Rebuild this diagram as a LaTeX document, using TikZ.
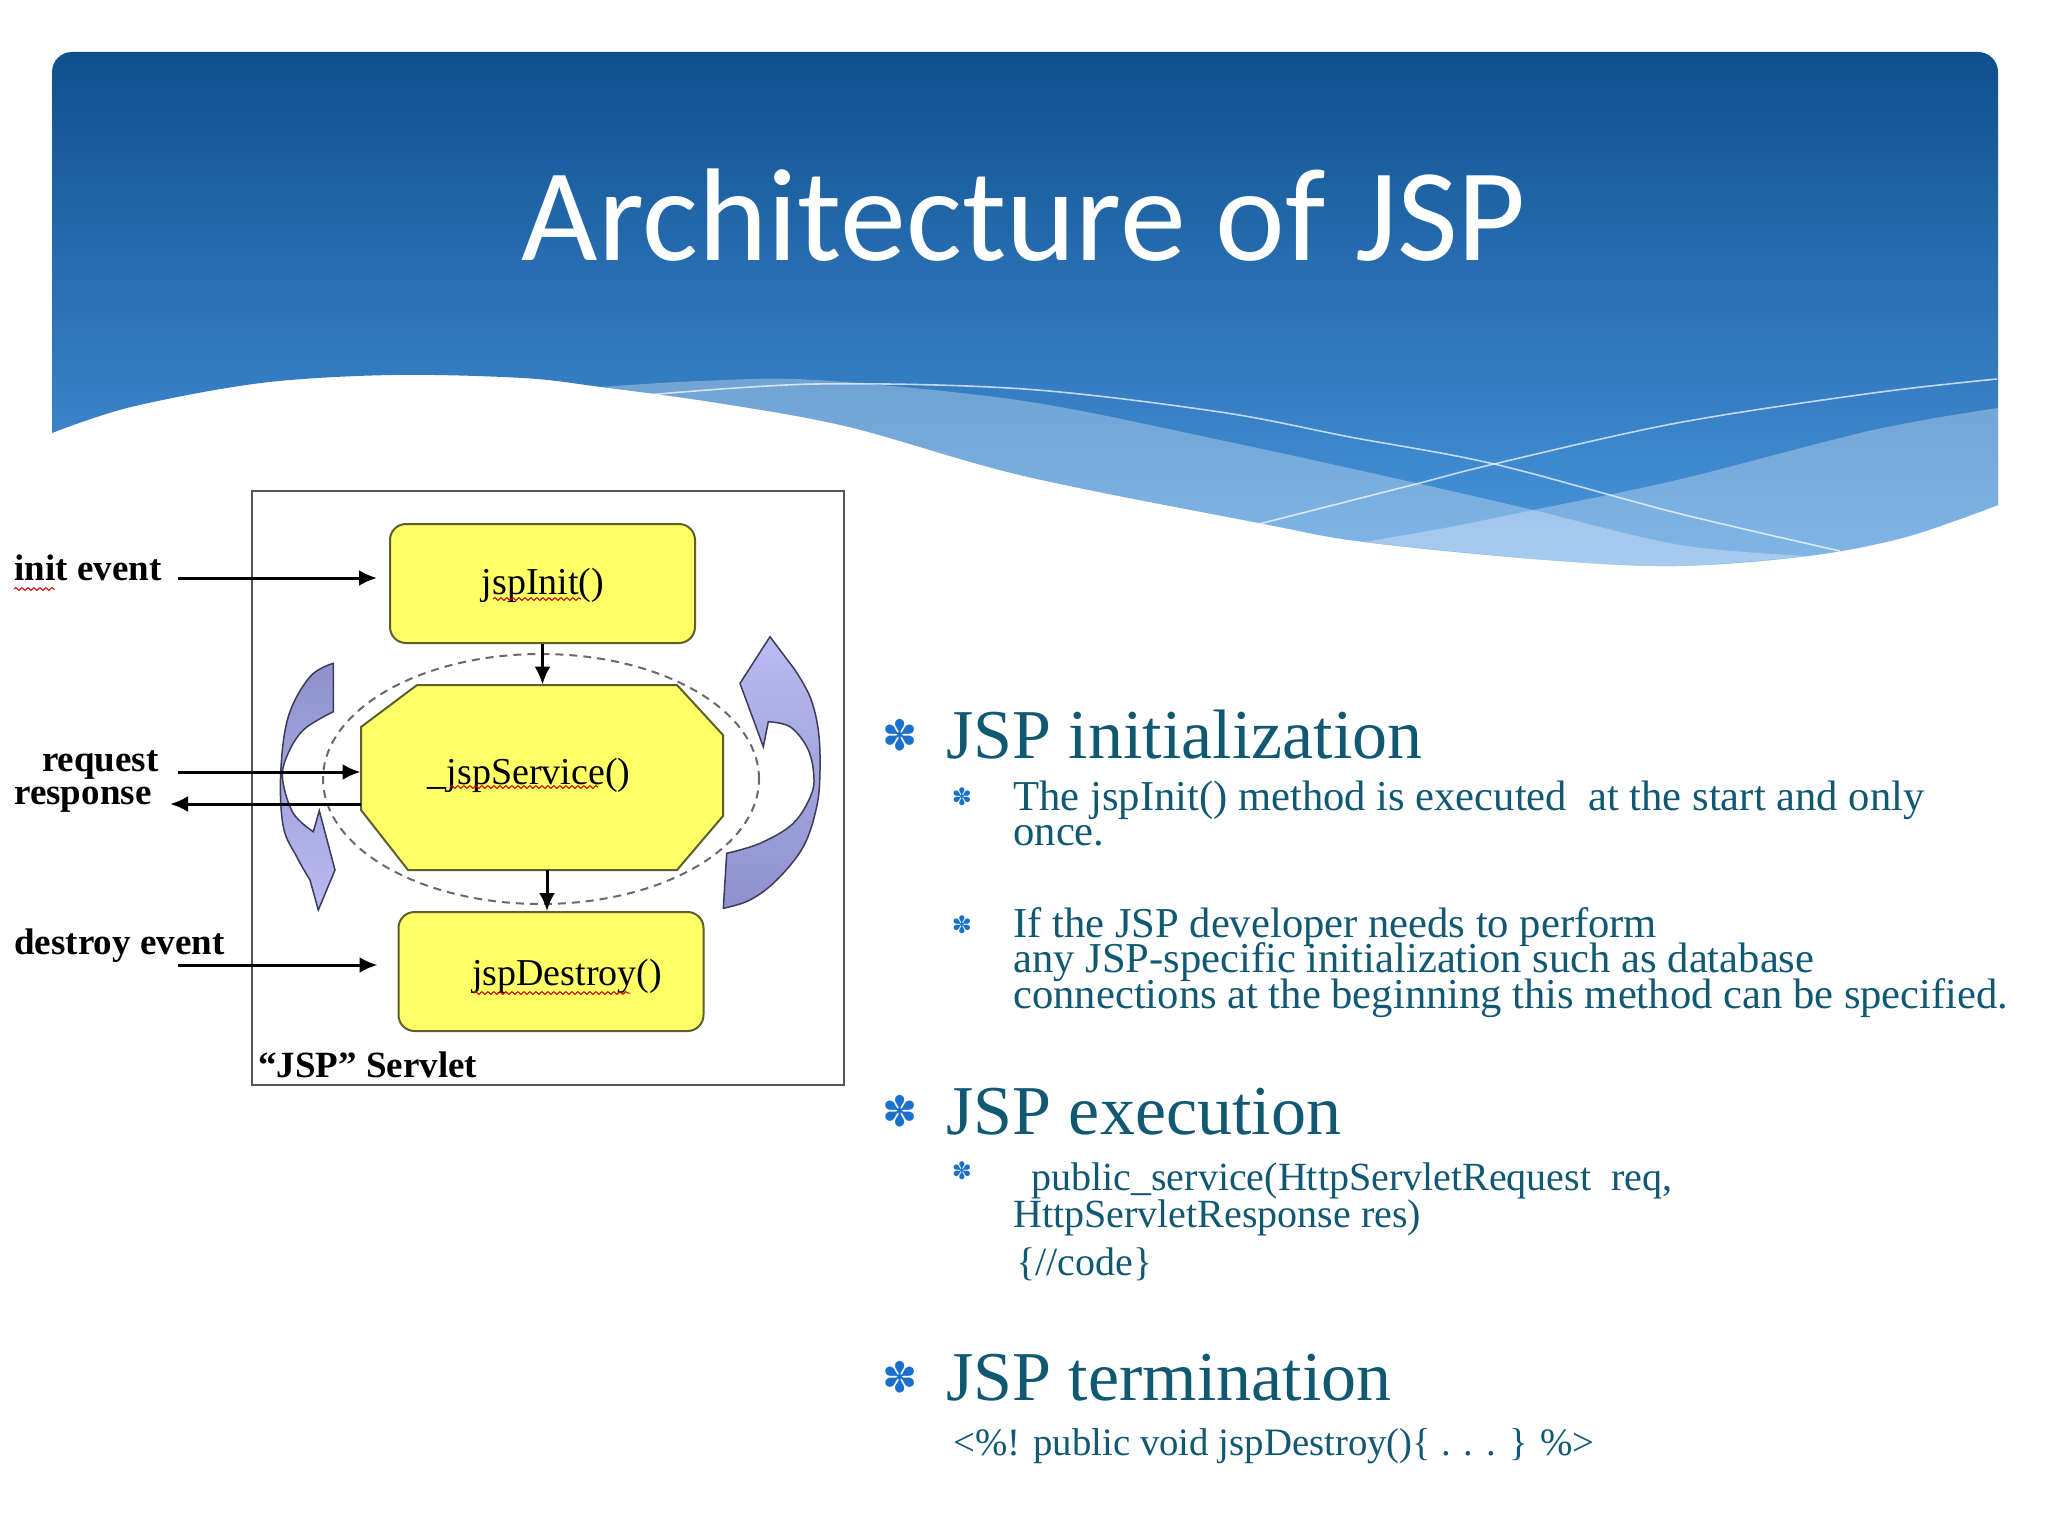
\documentclass[tikz,border=0pt]{standalone}
\usepackage{fontspec}
\setmainfont{Liberation Serif}
\newfontfamily\titlefont{Carlito}
\newfontfamily\symfont{DejaVu Sans}
\usetikzlibrary{arrows.meta,decorations.pathmorphing,shapes.geometric}

\definecolor{hdrTop}{RGB}{14,80,142}
\definecolor{hdrBot}{RGB}{74,150,222}
\definecolor{bodyTeal}{RGB}{17,89,115}
\definecolor{bulletBlue}{RGB}{25,112,205}
\definecolor{boxYellow}{RGB}{255,255,102}
\definecolor{boxEdge}{RGB}{95,95,45}
\definecolor{loopLight}{RGB}{184,188,242}
\definecolor{loopDark}{RGB}{142,145,203}
\definecolor{loopEdge}{RGB}{60,60,90}
\definecolor{frameGray}{RGB}{85,85,85}
\definecolor{ringGray}{RGB}{105,105,105}

\tikzset{
  ybox/.style={draw=boxEdge, fill=boxYellow, line width=1pt, rounded corners=8pt,
    minimum width=152.5pt, minimum height=59.5pt, inner sep=0pt},
  boxtxt/.style={font=\fontsize{19}{19}\selectfont, inner sep=0pt},
  lbl/.style={font=\bfseries\fontsize{18.5}{18.5}\selectfont, inner sep=0pt, anchor=base west},
  arr/.style={line width=1.5pt, -{Latex[length=9pt,width=8pt]}},
  heading/.style={text=bodyTeal, font=\fontsize{35}{35}\selectfont, anchor=base west, inner sep=0pt},
  subA/.style={text=bodyTeal, font=\fontsize{21.3}{21.3}\selectfont, anchor=base west, inner sep=0pt},
  subB/.style={text=bodyTeal, font=\fontsize{20}{20}\selectfont, anchor=base west, inner sep=0pt},
  subC/.style={text=bodyTeal, font=\fontsize{19.4}{19.4}\selectfont, anchor=base west, inner sep=0pt},
  bigstar/.style={text=bulletBlue, font=\symfont\fontsize{21}{21}\selectfont, inner sep=0pt},
  smallstar/.style={text=bulletBlue, font=\symfont\fontsize{12}{12}\selectfont, inner sep=0pt},
  squig/.style={red!80!black, line width=0.5pt, decorate,
    decoration={snake, amplitude=0.7pt, segment length=3pt}},
  loop/.style={draw=loopEdge, line width=0.75pt},
  waveline/.style={white, opacity=0.7, line width=0.8pt},
  band/.style={fill=white, fill opacity=0.3}
}

\begin{document}
\begin{tikzpicture}[x=0.5pt,y=-0.5pt]
\useasboundingbox (0,0) rectangle (2048,1536);
\fill[white] (0,0) rectangle (2048,1536);

% ---------- header ----------
\shade[top color=hdrTop, bottom color=hdrBot]
  (52,433) [rounded corners=10pt] -- (52,52) -- (1998,52) [sharp corners] -- (1998,505)
  -- plot[smooth, tension=0.55] coordinates {(1998,505) (1906,537) (1808,556) (1677,566)
     (1546,560) (1364,542) (1259,523) (1024,476) (849,427) (718,403) (601,387)
     (523,378) (392,375) (261,383) (131,407) (52,433)} -- cycle;

% light band A (descending)
\fill[band] plot[smooth, tension=0.55] coordinates {(601,387) (700,381) (816,380) (1024,401)
     (1220,440) (1416,483) (1533,510) (1680,545) (1808,556)}
  -- plot[smooth, tension=0.55] coordinates {(1808,556) (1677,566) (1546,560) (1364,542)
     (1259,523) (1024,476) (849,427) (718,403) (601,387)} -- cycle;
% light band B (rising)
\fill[band] plot[smooth, tension=0.55] coordinates {(1364,542) (1450,527) (1533,510)
     (1677,480) (1873,430) (1998,408)}
  -- (1998,505)
  -- plot[smooth, tension=0.55] coordinates {(1998,505) (1906,537) (1808,556) (1677,566)
     (1546,560) (1364,542)} -- cycle;
% thin white lines
\draw[waveline] plot[smooth, tension=0.55] coordinates {(647,395) (816,384) (1024,389)
     (1220,412) (1350,437) (1494,464) (1677,513) (1840,551)};
\draw[waveline] plot[smooth, tension=0.55] coordinates {(1259,524) (1416,484) (1494,464)
     (1677,423) (1873,393) (1997,379)};

\node[font=\titlefont\fontsize{66}{66}\selectfont, text=white, anchor=base, inner sep=0pt]
  (title) at (1024,260) {Architecture of JSP};

% ---------- diagram ----------
\node[draw=frameGray, line width=1.25pt, minimum width=296pt, minimum height=297pt,
  inner sep=0pt] (servlet) at (548,788) {};
\node[lbl] (servletL) at (258,1077) {“JSP” Servlet};

\node[ellipse, draw=ringGray, dashed, dash pattern=on 4pt off 3pt, line width=1pt,
  minimum width=218pt, minimum height=125pt, inner sep=0pt] (ring) at (541,779) {};

% loop arrows
\path[loop, top color=loopDark, bottom color=loopLight]
  (333.3,663.3) -- plot[smooth, tension=0.6] coordinates {(333.3,663.3) (310,676.7)
     (288.3,716.7) (280.7,773.3) (283.3,826.7) (296.7,856.7) (310,880)}
  -- (318.3,910) -- (335,870) -- (319.3,810.7) -- (313.3,831.7)
  -- plot[smooth, tension=0.6] coordinates {(313.3,831.7) (293.3,813.3) (282.7,780)
     (286.7,756.7) (303.3,730) (333.3,711.7)} -- cycle;
\path[loop, top color=loopLight, bottom color=loopDark]
  (770,636.7) -- (795,670) -- plot[smooth, tension=0.6] coordinates {(795,670)
     (810,696.7) (818.3,730) (820,770) (816.7,806.7) (803.3,846.7) (776.7,880)
     (750,900) (723.3,908.3)}
  -- (726.7,853.3)
  -- plot[smooth, tension=0.6] coordinates {(726.7,853.3) (760,843.3) (793.3,823.3)
     (811.7,793.3) (813.3,770) (806.7,746.7) (790,726.7) (768.3,721.7)}
  -- (763.3,746.7) -- (740,683.3) -- cycle;

% boxes
\node[ybox] (init) at (542.5,583.5) {};
\node[boxtxt] (initT) at (543,585) {jspInit()};

\fill[boxYellow, draw=boxEdge, line width=1pt] (417,685) -- (677,685) -- (723,735) -- (723,816)
  -- (677,870) -- (408,870) -- (361,810) -- (361,727) -- cycle;
\node[minimum width=181pt, minimum height=92.5pt, inner sep=0pt] (svc) at (542,777.5) {};
\node[boxtxt] (svcT) at (529,775) {\_jspService()};

\node[ybox] (dest) at (551,971.5) {};
\node[boxtxt] (destT) at (567,976) {jspDestroy()};

% spelling squiggles
\draw[squig] (14,589) -- (55,589);
\draw[squig] (493,599) -- (581,599);
\draw[squig] (450,787) -- (598,787);
\draw[squig] (474,993) -- (630,993);

% connectors
\draw[arr] (init.south) -- (init.south |- svc.north);
\draw[arr] ([xshift=-2pt]dest.north |- svc.south) -- ([xshift=-2pt]dest.north);

\node[lbl] (initL) at (14,580) {init event};
\node[lbl, anchor=base east] (reqL) at (159,771) {request};
\node[lbl] (resL) at (14,804) {response};
\node[lbl] (desL) at (14,954) {destroy event};

\coordinate (ie) at (178,578);
\coordinate (rq) at (178,772);
\coordinate (rs) at (170,804);
\coordinate (de) at (178,965);
\draw[arr, shorten >=6pt] (ie) -- (ie -| init.west);
\draw[arr] (rq) -- (rq -| svc.west);
\draw[arr] (rs -| svc.west) -- (rs);
\draw[arr, shorten >=10pt] (de) -- (de -| dest.west);

% ---------- bullet text ----------
\node[bigstar] (b1) at (900,735) {✽};
\node[heading] (h1) at (946,758) {JSP initialization};
\node[smallstar] (b1a) at (962,797) {✽};
\node[subA] (t1a) at (1013,810) {The jspInit() method is executed\ \ at the start and only};
\node[subA] (t1b) at (1013,845) {once.};
\node[smallstar] (b1b) at (962,925) {✽};
\node[subA] (t2a) at (1013,937) {If the JSP developer needs to perform};
\node[subA] (t2b) at (1013,972.5) {any JSP-specific initialization such as database};
\node[subA] (t2c) at (1013,1008) {connections at the beginning this method can be specified.};

\node[bigstar] (b2) at (900,1111) {✽};
\node[heading] (h2) at (946,1134) {JSP execution};
\node[smallstar] (b2a) at (962,1171) {✽};
\node[subB] (t3a) at (1031,1190) {public\_service(HttpServletRequest\ \ req,};
\node[subB] (t3b) at (1013,1227) {HttpServletResponse res)};
\node[subB] (t3c) at (1016,1275) {\{//code\}};

\node[bigstar] (b3) at (900,1377) {✽};
\node[heading] (h3) at (946,1400) {JSP termination};
\node[subC] (t4) at (953,1455) {<\%! public void jspDestroy()\{ . . . \} \%>};
\end{tikzpicture}
\end{document}
